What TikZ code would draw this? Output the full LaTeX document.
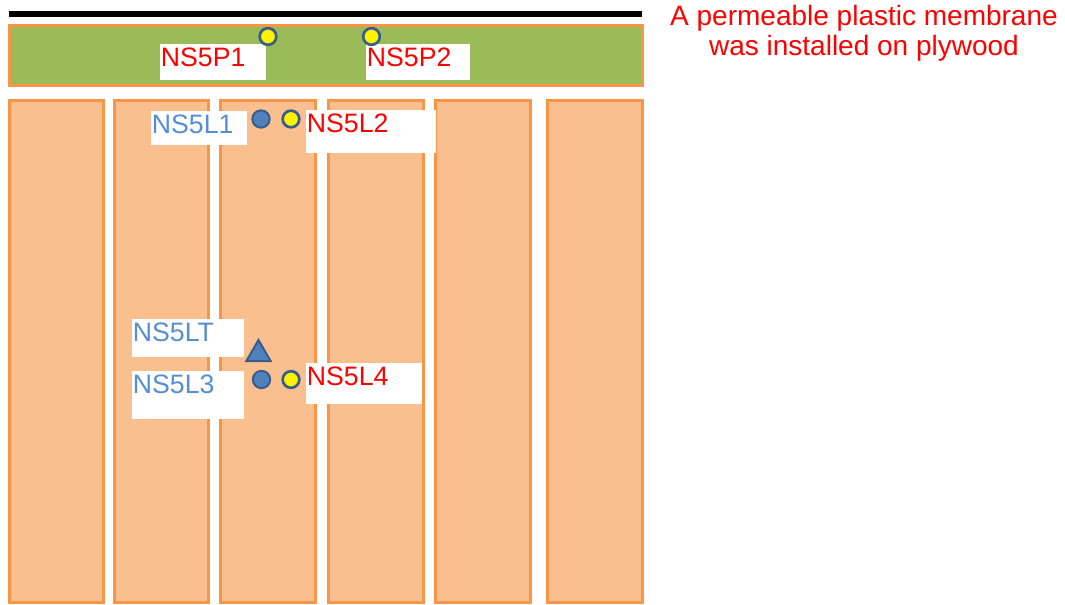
\documentclass[tikz,border=0pt]{standalone}
\usepackage{fontspec}
\setmainfont{Liberation Sans}
\definecolor{edgeorange}{HTML}{F79646}
\definecolor{stripfill}{HTML}{F9BF8F}
\definecolor{plygreen}{HTML}{9BBB59}
\definecolor{sensorblue}{HTML}{4F81BD}
\definecolor{sensoredge}{HTML}{385D8A}
\definecolor{tagblue}{HTML}{558ED5}
\usetikzlibrary{shapes.geometric}

\begin{document}
\begin{tikzpicture}[
    x=0.75pt, y=-0.75pt,
    membrane/.style={line width=4.5pt, black},
    plywood/.style={draw=edgeorange, fill=plygreen, line width=2.25pt},
    strip/.style={draw=edgeorange, fill=stripfill, line width=2.25pt},
    tag/.style={fill=white, anchor=north west, inner xsep=0.5pt, inner ysep=0pt, align=left,
        font=\fontsize{20}{24}\selectfont, text height=16.5pt},
    redtag/.style={tag, text=red},
    bluetag/.style={tag, text=tagblue},
    ptsensor/.style={draw=sensoredge, fill=yellow, circle, line width=2pt, inner sep=0pt, minimum size=12.5pt},
    lsensor/.style={draw=sensoredge, fill=sensorblue, circle, line width=1.5pt, inner sep=0pt, minimum size=13pt},
    tsensor/.style={draw=sensoredge, fill=sensorblue, regular polygon, regular polygon sides=3,
        line width=1.5pt, inner sep=0pt, minimum size=21pt}
]
    \useasboundingbox (0, 0) rectangle (1065, 604);

    % MEMBRANE AND PLYWOOD
    \draw[membrane] (9, 13.5) -- (642, 13.5);
    \draw[plywood] (9, 25) rectangle (642, 85.5);

    % STRIPS
    \foreach \xa/\xb in {9.5/103.5, 114.5/208.5, 220.5/315, 328.5/423.5, 435.5/530.5, 547.5/642}
        \draw[strip] (\xa, 100.5) rectangle (\xb, 602);

    % LABELS
    \node (tag_P1) at (160, 44) [redtag, text width=78pt, text depth=10.5pt] {NS5P1};
    \node (tag_P2) at (366, 44) [redtag, text width=76.5pt, text depth=10.5pt] {NS5P2};
    \node (tag_L1) at (151, 111) [bluetag, text width=70.5pt, text depth=9pt] {NS5L1};
    \node (tag_L2) at (306, 110) [redtag, text width=96.5pt, text depth=15.75pt] {NS5L2};
    \node (tag_LT) at (132, 319) [bluetag, text width=83pt, text depth=12pt] {NS5LT};
    \node (tag_L3) at (132, 371) [bluetag, text width=83pt, text depth=19.5pt] {NS5L3};
    \node (tag_L4) at (306, 363) [redtag, text width=86pt, text depth=14.25pt] {NS5L4};

    % SENSORS
    \node (P1) at (268, 36.5) [ptsensor] {};
    \node (P2) at (371.5, 36.5) [ptsensor] {};
    \node (L1) at (261, 119) [lsensor] {};
    \node (L2) at (291, 119) [ptsensor] {};
    \node (LT) at (258.5, 354) [tsensor] {};
    \node (L3) at (261.5, 379.5) [lsensor] {};
    \node (L4) at (291, 379.5) [ptsensor] {};

    % NOTE
    \node (note) at (864, 33) [text=red, align=center, font=\fontsize{21}{22.5}\selectfont]
        {A permeable plastic membrane\\was installed on plywood};
\end{tikzpicture}
\end{document}
